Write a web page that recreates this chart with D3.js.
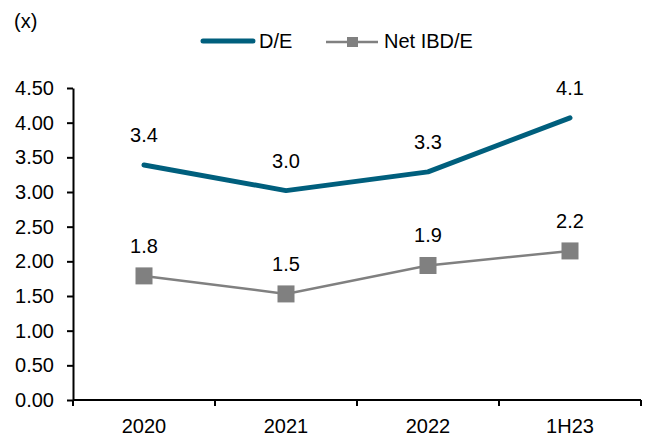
<!DOCTYPE html>
<html>
<head>
<meta charset="utf-8">
<script src="https://cdn.jsdelivr.net/npm/d3@7"></script>
<style>
  body { margin: 0; background: #fff; }
  text { font-family: "Liberation Sans", Arial, sans-serif; fill: #000; }
</style>
</head>
<body>
<script>
/*** data ***/
const periods = ["2020", "2021", "2022", "1H23"];
const deValues = [3.39, 3.02, 3.29, 4.07];
const netValues = [1.79, 1.53, 1.94, 2.15];
const deLabels = ["3.4", "3.0", "3.3", "4.1"];
const netLabels = ["1.8", "1.5", "1.9", "2.2"];
const yTicks = [0, 0.5, 1, 1.5, 2, 2.5, 3, 3.5, 4, 4.5];

const width = 656, height = 439;
const margin = { top: 88, right: 15, bottom: 39, left: 73 };
const deColor = "#005f7d", netColor = "#808080";
const fs = 20;

const svg = d3.select("body").append("svg")
  .attr("width", width)
  .attr("height", height);

const x = d3.scaleBand()
  .domain(periods)
  .range([margin.left, width - margin.right]);

const y = d3.scaleLinear()
  .domain([0, 4.5])
  .range([height - margin.bottom, margin.top]);

// y axis
const yAxis = svg.append("g")
  .attr("transform", `translate(${margin.left},0)`)
  .call(d3.axisLeft(y).tickValues(yTicks).tickFormat(d3.format(".2f")).tickSize(6).tickSizeOuter(0));
yAxis.select(".domain").attr("stroke", "#000").attr("stroke-width", 2);
yAxis.selectAll(".tick line").attr("stroke-width", 2);
yAxis.selectAll("text").attr("font-size", fs).attr("x", -19)
  .style("font-family", "Liberation Sans, Arial, sans-serif");

// x axis with ticks at band boundaries
const xg = svg.append("g")
  .attr("transform", `translate(0,${y(0)})`);
xg.append("line")
  .attr("x1", margin.left).attr("x2", width - margin.right)
  .attr("stroke", "#000").attr("stroke-width", 2);
const bounds = periods.map(p => x(p)).concat([x.range()[1]]);
xg.selectAll(".bt").data(bounds).join("line")
  .attr("x1", d => d).attr("x2", d => d)
  .attr("y1", 0).attr("y2", 6)
  .attr("stroke", "#000").attr("stroke-width", 2);
xg.selectAll(".xl").data(periods).join("text")
  .attr("x", d => x(d) + x.bandwidth() / 2)
  .attr("y", 33)
  .attr("text-anchor", "middle")
  .attr("font-size", fs)
  .text(d => d);

const cx = (d, i) => x(periods[i]) + x.bandwidth() / 2;

// D/E line
svg.append("path")
  .datum(deValues)
  .attr("fill", "none")
  .attr("stroke", deColor)
  .attr("stroke-width", 5)
  .attr("stroke-linejoin", "round")
  .attr("stroke-linecap", "round")
  .attr("d", d3.line().x(cx).y(d => y(d)));

// Net IBD/E line
svg.append("path")
  .datum(netValues)
  .attr("fill", "none")
  .attr("stroke", netColor)
  .attr("stroke-width", 2.5)
  .attr("d", d3.line().x(cx).y(d => y(d)));

svg.selectAll(".mk").data(netValues).join("rect")
  .attr("x", (d, i) => cx(d, i) - 8.5)
  .attr("y", d => y(d) - 8.5)
  .attr("width", 17).attr("height", 17)
  .attr("fill", netColor);

// data labels
svg.selectAll(".dl").data(deValues).join("text")
  .attr("x", cx)
  .attr("y", d => y(d) - 23)
  .attr("text-anchor", "middle")
  .attr("font-size", fs)
  .text((d, i) => deLabels[i]);

svg.selectAll(".nl").data(netValues).join("text")
  .attr("x", cx)
  .attr("y", d => y(d) - 23)
  .attr("text-anchor", "middle")
  .attr("font-size", fs)
  .text((d, i) => netLabels[i]);

// unit label
svg.append("text").attr("x", 14).attr("y", 28).attr("font-size", fs).text("(x)");

// legend
const lg = svg.append("g");
lg.append("line").attr("x1", 203).attr("x2", 253).attr("y1", 41).attr("y2", 41)
  .attr("stroke", deColor).attr("stroke-width", 5).attr("stroke-linecap", "round");
lg.append("text").attr("x", 259).attr("y", 48).attr("font-size", fs).text("D/E");
lg.append("line").attr("x1", 326).attr("x2", 378).attr("y1", 42).attr("y2", 42)
  .attr("stroke", netColor).attr("stroke-width", 2.5);
lg.append("rect").attr("x", 347).attr("y", 37).attr("width", 11).attr("height", 10).attr("fill", netColor);
lg.append("text").attr("x", 384).attr("y", 48).attr("font-size", fs).text("Net IBD/E");
</script>
</body>
</html>
